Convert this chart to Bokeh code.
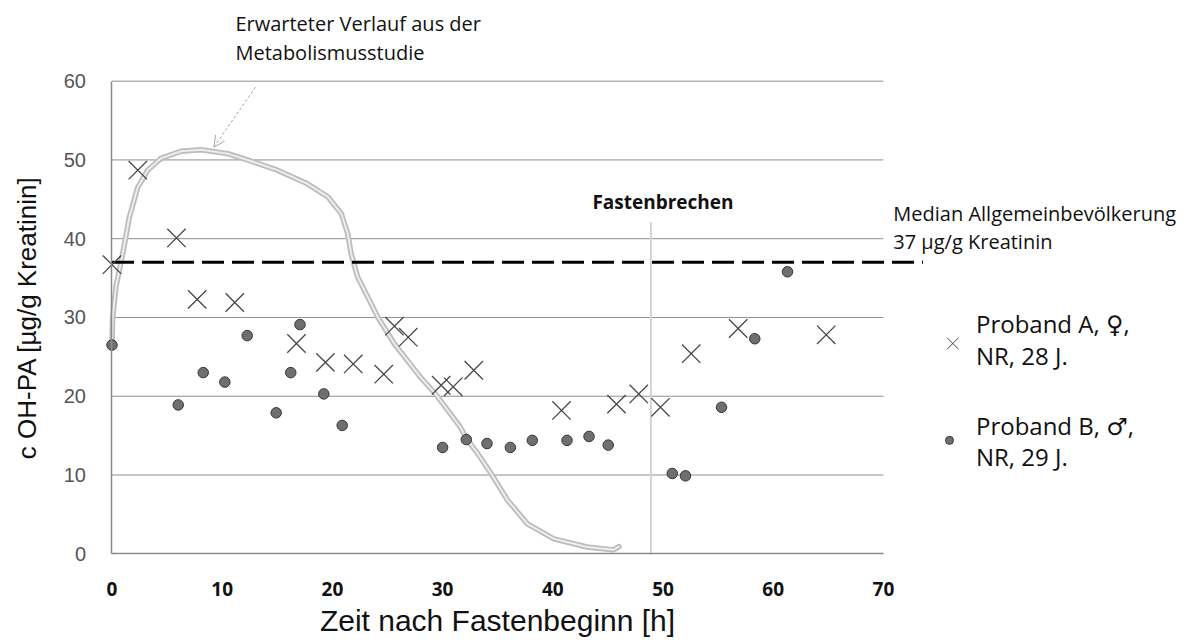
from bokeh.plotting import figure
from bokeh.models import Range1d, LinearAxis, FixedTicker, Arrow, OpenHead, Label
from bokeh.embed import file_html
from bokeh.resources import INLINE

# Proband A (female, 28 y): hours after start of fasting vs. c OH-PA [µg/g creatinine]
a_hours = [0.0, 2.34, 5.85, 7.73, 11.14, 16.74, 19.37, 21.89, 24.66, 25.63, 26.88,
           29.87, 30.96, 32.83, 40.79, 45.78, 47.8, 49.77, 52.56, 56.82, 64.81]
a_conc = [36.7, 48.7, 40.1, 32.3, 31.9, 26.7, 24.3, 24.1, 22.8, 28.9, 27.5,
          21.4, 21.2, 23.3, 18.2, 19.0, 20.3, 18.6, 25.4, 28.6, 27.8]

# Proband B (male, 29 y)
b_hours = [0.0, 6.01, 8.28, 10.24, 12.27, 14.9, 16.22, 17.06, 19.22, 20.89, 30.0,
           32.15, 34.03, 36.15, 38.14, 41.29, 43.29, 45.03, 50.84, 52.04, 55.31,
           58.33, 61.3]
b_conc = [26.5, 18.9, 23.0, 21.8, 27.7, 17.9, 23.0, 29.1, 20.3, 16.3, 13.5,
          14.5, 14.0, 13.5, 14.4, 14.4, 14.9, 13.8, 10.2, 9.9, 18.6, 27.3, 35.8]

# Expected course from the metabolism study
expected_hours = [0.0, 0.06, 0.36, 0.97, 1.57, 2.33, 3.24, 4.44, 6.26, 8.07, 10.5,
                  12.3, 15.0, 17.7, 19.6, 20.8, 21.4, 21.7, 22.3, 23.5, 24.1, 25.6,
                  28.0, 29.3, 31.6, 32.2, 33.2, 34.4, 35.9, 37.7, 40.1, 43.1, 45.5, 46.0]
expected_conc = [26.7, 30.0, 33.9, 38.1, 42.7, 46.5, 48.7, 50.2, 51.1, 51.3, 50.8,
                 50.0, 48.7, 47.0, 45.3, 43.2, 40.6, 38.1, 35.1, 31.8, 30.1, 26.7,
                 22.4, 20.4, 16.1, 14.6, 12.7, 10.2, 6.8, 3.8, 1.9, 0.86, 0.5, 0.9]

median_population = 37.0      # µg/g creatinine
fast_break_hour = 48.9
x_ticks = [0, 10, 20, 30, 40, 50, 60, 70]
y_ticks = [0, 10, 20, 30, 40, 50, 60]
grid_levels = [10, 20, 30, 40, 50, 60]

SANS = "Liberation Sans"
HUMAN = "Open Sans, DejaVu Sans"

p = figure(width=1191, height=642, output_backend="svg", toolbar_location=None,
           x_range=Range1d(-10.118, 97.96), y_range=Range1d(-11.26, 70.24),
           x_axis_type=None, y_axis_type=None, min_border=0,
           outline_line_color=None, background_fill_color="white",
           border_fill_color="white")

# horizontal grid lines limited to the data area
p.segment(x0=0, x1=70, y0=grid_levels, y1=grid_levels,
          line_color="#8f8f8f", line_width=1)

# axes placed at the data origin
xaxis = LinearAxis(fixed_location=0, bounds=(0, 70),
                   ticker=FixedTicker(ticks=x_ticks),
                   axis_line_color="#8a8a8a", axis_line_width=1.5,
                   major_tick_line_color=None, minor_tick_line_color=None,
                   major_label_text_font="Open Sans", major_label_text_font_style="bold",
                   major_label_text_font_size="19px", major_label_text_color="#111111",
                   major_label_standoff=22,
                   axis_label="Zeit nach Fastenbeginn [h]",
                   axis_label_text_font=SANS, axis_label_text_font_size="30px",
                   axis_label_text_font_style="normal", axis_label_text_color="#111111",
                   axis_label_standoff=5)
p.add_layout(xaxis, "below")

yaxis = LinearAxis(fixed_location=0, bounds=(0, 60),
                   ticker=FixedTicker(ticks=y_ticks),
                   axis_line_color="#8a8a8a", axis_line_width=1.5,
                   major_tick_line_color=None, minor_tick_line_color=None,
                   major_label_text_font=SANS, major_label_text_font_size="20px",
                   major_label_text_color="#555555", major_label_standoff=20,
                   axis_label="c OH-PA [µg/g Kreatinin]",
                   axis_label_text_font=SANS, axis_label_text_font_size="26px",
                   axis_label_text_font_style="normal", axis_label_text_color="#111111",
                   axis_label_standoff=18)
p.add_layout(yaxis, "left")

# end of fasting
p.segment(x0=fast_break_hour, x1=fast_break_hour, y0=0, y1=42.1,
          line_color="#d4d4d4", line_width=2)

# expected course: double-stroked light grey curve
p.line(expected_hours, expected_conc, line_color="#bcbcbc", line_width=5.5,
       line_join="round", line_cap="round")
p.line(expected_hours, expected_conc, line_color="#ededed", line_width=2,
       line_join="round", line_cap="round")

# median of the general population
p.segment(x0=0, x1=73.6, y0=median_population, y1=median_population,
          line_color="black", line_width=3, line_dash="22 8")

# measurements
p.scatter(a_hours, a_conc, marker="x", size=26, line_color="#474747",
          line_width=1.3)
p.scatter(b_hours, b_conc, marker="circle", size=10.5, fill_color="#6f6f6f",
          line_color="#353535", line_width=1)

# arrow pointing at the expected curve
p.add_layout(Arrow(x_start=13.02, y_start=59.24, x_end=9.24, y_end=51.62,
                   line_color="#a8a8a8", line_width=1, line_dash="3 2",
                   end=OpenHead(size=11, line_color="#a8a8a8", line_width=1)))


def label(x, y, text, size, style="normal", color="#111111", align="left", font=HUMAN):
    p.add_layout(Label(x=x, y=y, text=text, text_font=font,
                       text_font_size=size, text_font_style=style,
                       text_color=color, text_align=align,
                       text_baseline="middle"))


label(11.2, 67.3, "Erwarteter Verlauf aus der", "20px")
label(11.2, 63.7, "Metabolismusstudie", "20px")
label(50.0, 44.6, "Fastenbrechen", "19px", style="bold", align="center")
label(70.9, 43.2, "Median Allgemeinbevölkerung", "20px")
label(70.9, 39.6, "37 µg/g Kreatinin", "20px")

# legend
p.scatter([76.3], [26.7], marker="x", size=16, line_color="#4a4a4a", line_width=1)
p.scatter([76.0], [14.4], marker="circle", size=8, fill_color="#6f6f6f",
          line_color="#353535", line_width=1)
label(78.4, 29.2, "Proband A, ♀,", "24px")
label(78.4, 25.2, "NR, 28 J.", "24px")
label(78.4, 16.3, "Proband B, ♂,", "24px")
label(78.4, 12.4, "NR, 29 J.", "24px")

open("out.html", "w").write(file_html(p, INLINE))
